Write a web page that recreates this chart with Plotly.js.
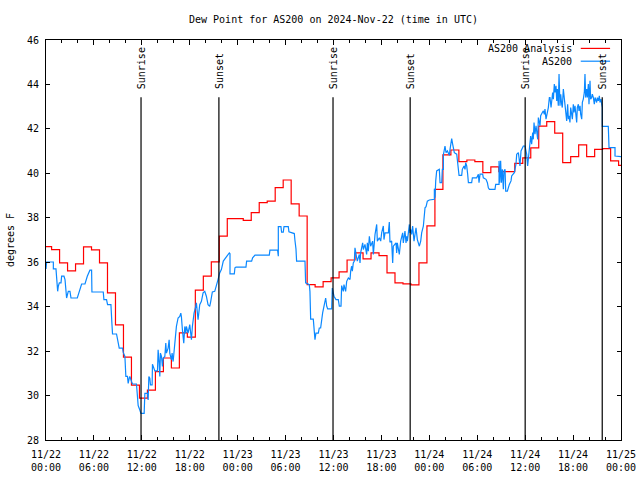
<!DOCTYPE html>
<html><head><meta charset="utf-8">
<script src="https://cdn.plot.ly/plotly-3.0.1.min.js"></script>
<style>html,body{margin:0;padding:0;background:#fff}#chart{width:640px;height:480px}</style>
</head><body><div id="chart"></div>
<script>
// x axis: hours since 2024-11-22 00:00 UTC
const tickHours = [0,6,12,18,24,30,36,42,48,54,60,66,72];
const tickLabels = ["11/22<br>00:00","11/22<br>06:00","11/22<br>12:00","11/22<br>18:00",
  "11/23<br>00:00","11/23<br>06:00","11/23<br>12:00","11/23<br>18:00",
  "11/24<br>00:00","11/24<br>06:00","11/24<br>12:00","11/24<br>18:00","11/25<br>00:00"];

// AS200 Analysis: hourly values, each valid from (hour - 0.3) onward
const analysisStartHours = [-0.3,0.7,1.7,2.7,3.7,4.7,5.7,6.7,7.7,8.7,9.7,10.7,11.7,12.7,13.7,14.7,15.7,16.7,17.7,18.7,19.7,20.7,21.7,22.7,23.7,24.7,25.7,26.7,27.7,28.7,29.7,30.7,31.7,32.7,33.7,34.7,35.7,36.7,37.7,38.7,39.7,40.7,41.7,42.7,43.7,44.7,45.7,46.7,47.7,48.7,49.7,50.7,51.7,52.7,53.7,54.7,55.7,56.7,57.7,58.7,59.7,60.7,61.7,62.7,63.7,64.7,65.7,66.7,67.7,68.7,69.7,70.7,71.7,72.7];
const analysisValues = [36.70,36.57,35.97,35.61,35.93,36.69,36.56,35.97,34.62,33.18,31.73,30.47,29.88,30.24,31.08,31.69,31.24,32.82,32.63,34.74,35.37,36.02,37.17,37.96,37.96,37.88,38.23,38.68,38.75,39.36,39.70,38.63,38.08,34.99,34.89,35.13,35.30,35.57,36.10,36.42,36.15,36.42,36.30,35.52,35.07,35.03,34.98,35.97,37.64,39.28,40.83,41.05,40.53,40.60,40.53,40.03,40.29,40.08,40.08,40.45,40.70,41.15,42.12,42.33,41.81,40.48,40.75,41.28,40.75,41.08,41.11,40.56,40.36,40.36];

// AS200 station observations
const stationHours = [0,0.08,0.92,0.92,1.25,1.46,1.54,1.67,1.88,1.96,2.25,2.38,2.58,2.79,3.0,3.13,3.92,4.17,4.46,4.88,5.17,5.5,5.71,5.75,7.17,7.25,7.58,7.71,8.13,8.25,8.33,8.83,8.92,9.08,9.17,9.58,9.67,9.88,10.0,10.2,10.29,10.42,10.5,10.71,10.83,11.33,11.42,11.54,11.75,11.88,12.29,12.38,12.71,12.79,12.88,13.0,13.08,13.29,13.33,13.5,13.63,13.96,14.04,14.17,14.25,14.33,14.46,14.58,14.67,14.88,15.0,15.08,15.29,15.42,15.5,15.71,15.79,15.92,16.04,16.25,16.33,16.54,16.75,16.88,16.96,17.08,17.17,17.25,17.38,17.5,17.58,17.79,18.0,18.21,18.33,18.42,18.54,18.75,18.83,19.04,19.17,19.25,19.46,19.67,19.88,20.08,20.29,20.5,20.63,20.83,21.13,21.33,21.54,21.75,21.96,
22.2,22.62,22.95,23.04,23.04,23.58,23.66,23.79,25.04,25.12,25.75,25.87,26.17,27.96,28.04,29.0,29.09,29.09,29.42,29.5,29.71,29.8,30.34,30.42,31.09,31.17,31.3,31.38,32.43,32.51,32.97,33.05,33.14,33.47,33.6,33.68,33.8,34.1,34.22,34.39,
34.64,34.85,35.02,35.15,35.27,35.77,35.85,36.06,36.31,36.6,36.73,36.94,37.02,37.23,37.31,37.52,37.65,37.86,38.07,38.15,38.27,38.36,38.48,38.61,38.69,38.9,38.98,39.23,39.32,39.4,39.65,39.74,39.94,40.15,40.24,40.36,40.49,40.65,40.9,40.99,41.2,41.41,41.49,41.74,41.91,42.03,42.24,42.32,42.45,42.87,42.99,43.07,43.28,43.41,43.49,43.83,43.91,43.99,44.24,44.41,44.66,44.74,44.95,45.08,45.16,45.25,45.5,45.58,45.66,45.79,45.91,46.08,46.33,46.5,46.75,
46.92,47.04,47.25,47.34,47.46,47.59,47.75,48.0,48.5,48.63,48.63,48.71,48.8,48.92,49.25,49.34,49.55,49.63,49.76,49.76,49.96,50.09,50.26,50.51,50.59,50.72,50.8,50.92,51.13,51.43,51.51,51.63,51.72,52.05,52.13,52.34,52.47,52.55,52.68,52.8,52.89,53.3,53.39,53.93,54.14,54.22,54.35,54.68,54.76,55.1,55.27,55.39,55.52,56.22,56.31,56.73,56.73,56.81,56.93,57.02,57.14,57.27,57.35,57.48,57.56,57.77,58.02,58.23,58.31,58.52,
58.64,58.85,58.94,59.15,59.35,59.48,59.77,59.98,60.19,60.31,60.4,60.61,60.69,60.81,60.94,61.02,61.11,61.23,61.36,61.57,61.65,61.86,61.94,62.15,62.28,62.4,62.48,62.61,62.82,62.9,63.03,63.11,63.24,63.32,63.44,63.53,63.65,63.74,63.86,63.95,64.03,64.15,64.24,64.36,64.45,64.57,64.65,64.78,64.9,64.99,65.07,65.2,65.32,65.41,65.49,65.61,65.7,65.82,65.91,66.03,66.12,66.24,66.37,66.45,66.53,66.66,66.74,66.87,66.95,67.08,67.16,67.28,67.41,67.49,67.58,67.7,67.79,67.91,67.99,68.12,68.2,68.33,68.41,68.54,68.66,68.75,68.95,69.04,69.16,69.29,69.37,69.5,69.58,69.66,69.66,70.41,70.5,71.25,71.25,72.08];
const stationValues = [35.7,36.01,36.01,35.7,35.7,34.69,34.92,35.07,35.07,35.37,35.37,35.22,34.39,34.69,34.69,34.39,34.39,34.69,35.02,35.02,35.37,35.64,35.64,34.66,34.66,34.32,34.32,34.09,34.09,33.26,32.77,32.77,32.59,32.43,32.13,32.13,31.94,31.76,30.86,30.86,30.55,30.78,30.86,30.63,30.52,30.52,30.03,29.55,29.35,29.2,29.2,30.1,30.1,29.8,30.86,30.78,30.48,30.48,31.41,31.16,31.11,31.11,32.06,31.46,30.86,31.91,31.76,31.31,31.68,31.76,32.36,31.91,32.13,32.51,31.91,31.61,31.91,31.53,31.98,32.51,33.11,33.49,33.56,33.71,33.53,32.96,32.66,32.36,33.11,32.81,33.11,32.81,33.19,32.51,33.11,33.56,33.71,34.01,34.17,33.41,33.71,34.09,34.24,34.62,34.69,34.47,34.09,34.01,34.24,34.66,34.69,34.92,35.22,35.52,35.67,
36.05,36.27,36.42,36.38,35.48,35.48,35.75,35.78,35.78,36.05,36.05,36.2,36.32,36.32,36.54,36.54,36.27,37.6,37.6,37.35,37.35,37.6,37.6,37.37,37.29,36.99,36.6,36.05,36.05,35.07,34.99,34.69,33.44,33.44,32.96,32.51,32.81,32.81,33.04,33.04,
33.72,34.02,34.39,34.02,33.9,33.9,34.84,34.47,34.32,34.32,34.02,34.02,34.95,34.69,34.99,34.69,35.14,35.29,35.22,35.6,35.82,35.6,35.97,36.05,36.65,36.2,36.05,36.35,35.97,36.42,36.87,36.57,36.8,36.35,36.87,36.5,37.17,36.72,36.95,36.35,37.25,37.7,36.95,37.1,36.95,37.32,37.63,37.02,37.32,37.32,37.81,36.9,36.95,35.97,36.72,36.87,36.42,36.87,36.35,36.95,37.32,36.87,37.4,36.87,37.17,36.95,37.7,37.32,37.48,37.25,37.63,36.95,37.55,37.02,36.72,
36.95,37.32,37.62,38.08,38.45,38.5,38.75,38.8,38.8,38.83,39.31,38.9,39.66,40.11,40.18,39.58,39.58,40.18,40.18,40.83,41.23,40.93,41.01,40.81,41.08,41.31,41.56,41.31,40.93,40.86,40.66,40.33,39.91,39.91,40.18,40.33,40.18,40.48,40.33,39.96,39.58,39.58,39.8,39.8,39.96,39.58,39.96,39.96,39.8,39.73,39.58,39.35,39.28,39.28,39.5,39.5,40.56,39.58,40.56,39.58,40.18,39.28,40.11,40.18,39.2,39.2,39.5,39.66,39.88,39.96,
40.03,40.41,40.86,40.93,40.33,41.01,41.23,41.23,40.86,40.33,40.71,41.53,41.68,41.31,41.83,41.53,42.29,41.76,42.14,41.53,42.51,42.14,42.59,42.74,42.81,42.66,42.89,42.44,42.81,42.96,43.41,43.41,42.96,43.41,43.64,43.34,44.02,43.64,43.94,43.26,43.79,43.04,44.47,43.04,43.56,43.11,42.96,43.79,43.34,43.04,42.74,42.36,43.11,42.44,42.59,42.29,42.96,42.59,42.44,43.11,42.74,43.04,42.59,42.29,42.96,43.11,42.81,43.04,42.66,42.44,43.19,43.34,43.64,44.47,43.41,43.79,43.41,44.02,43.11,44.17,43.34,43.41,43.56,43.41,43.11,43.41,43.19,43.41,43.26,43.49,43.19,43.34,43.11,42.96,42.11,42.11,41.16,41.16,40.78,40.75];

// Sun events (hours since 11/22 00:00 UTC)
const sunriseHours = [11.9, 35.94, 60.0];
const sunsetHours = [21.65, 45.6, 69.65];

const FONT = "DejaVu Sans Mono, monospace";
const RED = "#ff0000";
const BLUE = "#0a88ff";

const traces = [
  {x: analysisStartHours, y: analysisValues, type: "scatter", mode: "lines",
   line: {color: RED, width: 1.2, shape: "hv"}, name: "AS200 Analysis", showlegend: false},
  {x: stationHours, y: stationValues, type: "scatter", mode: "lines",
   line: {color: BLUE, width: 1.2}, name: "AS200", showlegend: false}
];

const shapes = [];
const annotations = [];
const lineTop = 0.857;
function addEvent(h, label) {
  shapes.push({type: "line", xref: "x", yref: "paper", x0: h, x1: h, y0: 0, y1: lineTop,
               line: {color: "black", width: 1.2}});
  annotations.push({xref: "x", yref: "paper", x: h, y: 0.872, text: label, textangle: -90,
                    showarrow: false, xanchor: "center", yanchor: "bottom",
                    font: {family: FONT, size: 10, color: "black"}});
}
sunriseHours.forEach(h => addEvent(h, "Sunrise"));
sunsetHours.forEach(h => addEvent(h, "Sunset"));

// legend drawn gnuplot-style (text then line sample)
const legendItems = [["AS200 Analysis", RED, 0.979], ["AS200", BLUE, 0.947]];
legendItems.forEach(([txt, col, yy]) => {
  annotations.push({xref: "paper", yref: "paper", x: 0.919, y: yy, text: txt, showarrow: false,
                    xanchor: "right", yanchor: "middle", font: {family: FONT, size: 10, color: "black"}});
  shapes.push({type: "line", xref: "paper", yref: "paper", x0: 0.930, x1: 0.981, y0: yy, y1: yy,
               line: {color: col, width: 1.2}});
});

const layout = {
  width: 640, height: 480,
  margin: {l: 46, r: 19, t: 40, b: 40},
  paper_bgcolor: "white", plot_bgcolor: "white",
  font: {family: FONT, size: 10, color: "black"},
  title: {text: "Dew Point for AS200 on 2024-Nov-22 (time in UTC)", x: 0.5, xref: "paper",
          y: 0.96, yref: "container", yanchor: "middle", font: {family: FONT, size: 10, color: "black"}},
  xaxis: {range: [0, 72], tickmode: "array", tickvals: tickHours, ticktext: tickLabels,
          ticks: "inside", ticklen: 5, tickcolor: "black", showline: true, linecolor: "black",
          linewidth: 1, mirror: "allticks", showgrid: false, zeroline: false,
          minor: {tickmode: "linear", tick0: 0, dtick: 2, ticks: "inside", ticklen: 3, tickcolor: "black"},
          tickfont: {family: FONT, size: 10, color: "black"}, ticklabelstandoff: 5},
  yaxis: {range: [28, 46], tickmode: "linear", tick0: 28, dtick: 2, ticks: "inside", ticklen: 4,
          tickcolor: "black", showline: true, linecolor: "black", linewidth: 1, mirror: "allticks",
          showgrid: false, zeroline: false, tickfont: {family: FONT, size: 10, color: "black"},
          ticklabelstandoff: 4,
          title: {text: "degrees F", standoff: 10, font: {family: FONT, size: 10, color: "black"}}},
  shapes: shapes,
  annotations: annotations,
  showlegend: false
};

Plotly.newPlot("chart", traces, layout, {displayModeBar: false, staticPlot: true});
</script>
</body></html>
